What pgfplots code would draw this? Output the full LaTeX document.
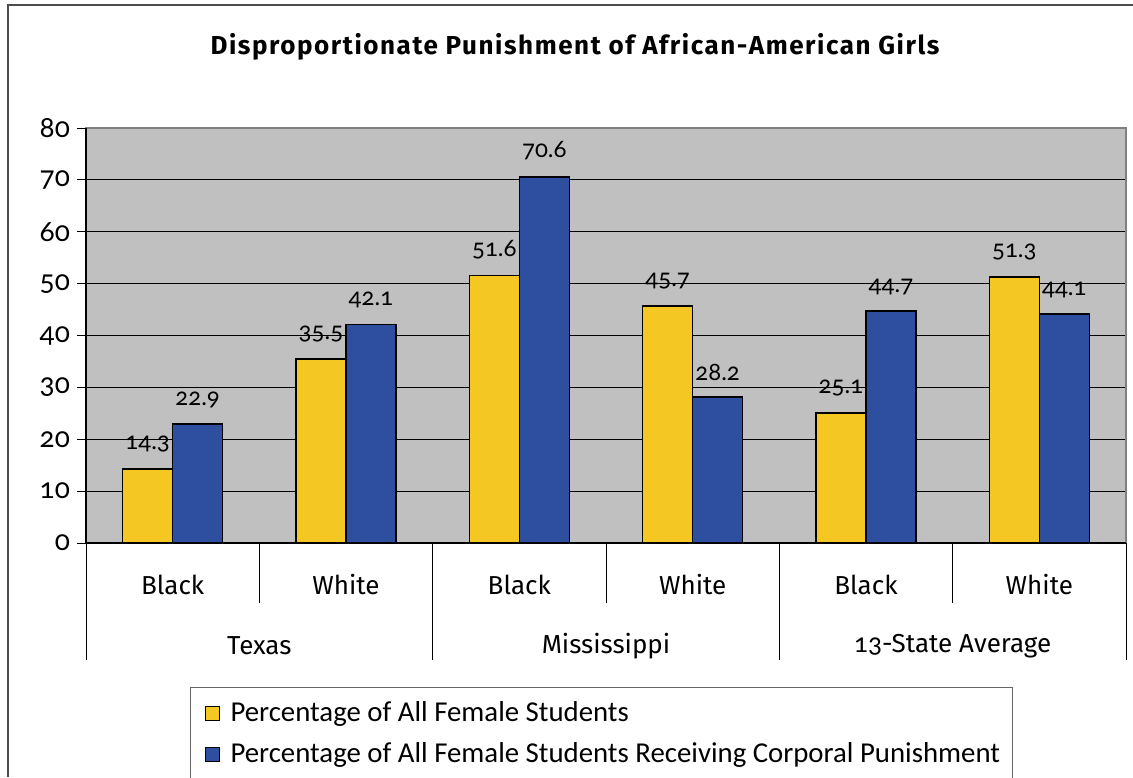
\documentclass[border=0pt]{standalone}
\usepackage{fontspec}
\setmainfont{Fira Sans}
\newfontfamily\numfont{Lato}[RawFeature=+onum]
\newfontfamily\legfont{Carlito}
\newfontfamily\titlefont{Fira Sans}[LetterSpace=6]
\usepackage{pgfplots}
\pgfplotsset{compat=1.18}

\definecolor{barYellow}{HTML}{F5C722}
\definecolor{barBlue}{HTML}{2E4FA0}
\definecolor{plotGray}{HTML}{C0C0C0}

\pgfplotsset{/pgf/number format/assume math mode=true}

\begin{document}
\begin{tikzpicture}
\useasboundingbox (0,0) rectangle (566.5pt,388.5pt);
\draw[line width=1.2pt, black!70] (4pt,0) -- (4pt,386pt) -- (566.5pt,386pt);
\node[font=\titlefont\fontsize{13}{15}\selectfont\bfseries] at (287.5pt,365pt)
    {Disproportionate Punishment of African-American Girls};

\begin{axis}[
    at={(43pt,117pt)}, anchor=south west,
    scale only axis,
    width=520pt, height=207.5pt,
    ybar=0pt, bar width=25pt,
    xmin=0, xmax=6,
    ymin=0, ymax=80,
    ytick={0,10,...,80},
    xtick={0.5,1.5,2.5,3.5,4.5,5.5},
    xticklabels={Black,White,Black,White,Black,White},
    xtick style={draw=none},
    xticklabel style={anchor=center, yshift=-16.5pt, font=\fontsize{13}{15}\selectfont},
    yticklabel style={font=\numfont\fontsize{14}{16}\selectfont},
    ytick style={black, line width=0.5pt},
    tick align=outside, major tick length=4.5pt,
    tick pos=left,
    ymajorgrids, grid style={black, line width=0.5pt},
    axis background/.style={fill=plotGray},
    axis line style={black!50, line width=0.6pt},
    clip=false,
    nodes near coords,
    every node near coord/.append style={font=\numfont\fontsize{12}{14}\selectfont, yshift=4.5pt,
        /pgf/number format/.cd, fixed, precision=1, fixed zerofill},
    legend style={at={(0.1,-0.347)}, anchor=north west,
        draw=black!60, line width=0.5pt,
        font=\legfont\fontsize{14.4}{16}\selectfont,
        row sep=5pt, inner xsep=4pt, inner ysep=5pt},
    legend cell align=left,
    legend image code/.code={
        \path[draw=none, fill=none] (0pt,0pt) -- (14pt,0pt);
        \draw[#1, draw=black, line width=0.5pt] (3.5pt,-3.5pt) rectangle (10.5pt,3.5pt);},
]
\addplot[fill=barYellow, draw=black, line width=0.8pt] coordinates {
    (0.5,14.3) (1.5,35.5) (2.5,51.6) (3.5,45.7) (4.5,25.1) (5.5,51.3)
};
\addplot[fill=barBlue, draw=black, line width=0.8pt] coordinates {
    (0.5,22.9) (1.5,42.1) (2.5,70.6) (3.5,28.2) (4.5,44.7) (5.5,44.1)
};
\legend{Percentage of All Female Students,
        Percentage of All Female Students Receiving Corporal Punishment}

% axis frame: black on left and bottom
\draw[black, line width=0.6pt] (axis cs:0,80) -- (axis cs:0,0) -- (axis cs:6,0);
% category separators below the axis
\pgfplotsinvokeforeach{1,3,5}{
    \draw[black, line width=0.5pt] (axis cs:#1,0) -- ++(0,-30pt);
}
\pgfplotsinvokeforeach{0,2,4,6}{
    \draw[black, line width=0.5pt] (axis cs:#1,0) -- ++(0,-58.5pt);
}
\node[font=\fontsize{13}{15}\selectfont] at ([yshift=-51.5pt]axis cs:1,0) {Texas};
\node[font=\fontsize{13}{15}\selectfont] at ([yshift=-51.5pt]axis cs:3,0) {Mississippi};
\node[font=\fontsize{13}{15}\selectfont] at ([yshift=-51.5pt]axis cs:5,0) {{\numfont 13}-State Average};
\end{axis}
\end{tikzpicture}
\end{document}
